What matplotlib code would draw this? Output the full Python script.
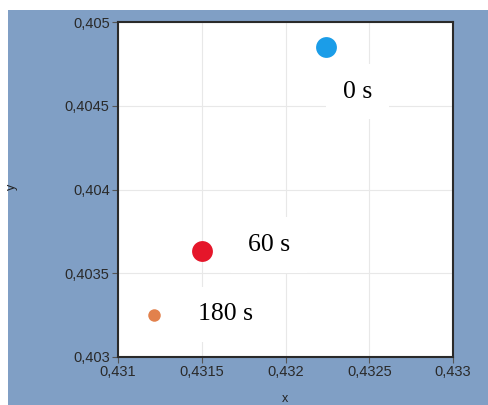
import matplotlib.pyplot as plt
import matplotlib.ticker as mticker
from matplotlib.patches import Rectangle
import numpy as np

# data
xs = [0.43224, 0.43150, 0.431215]
ys = [0.40485, 0.40363, 0.40325]
labels = ["0 s", "60 s", "180 s"]
colors = ["#1b9de8", "#e5162a", "#e2814c"]
sizes = [15, 15, 9]
# label positions (data coords)
lab_x = [0.43243, 0.43190, 0.43164]
lab_y = [0.404585, 0.403668, 0.403255]

W, H = 488, 405
fig = plt.figure(figsize=(W / 100, H / 100), dpi=100)
fig.patch.set_facecolor("white")
bg = Rectangle((8 / W, 0), 1 - 8 / W, 1 - 10 / H,
               transform=fig.transFigure, facecolor="#809fc5",
               edgecolor="none", zorder=-10)
fig.add_artist(bg)

ax = fig.add_axes([118 / W, 1 - 357 / H, 335 / W, 335 / H])
ax.set_zorder(5)
ax.set_facecolor("white")
ax.set_xlim(0.431, 0.433)
ax.set_ylim(0.403, 0.405)
ax.xaxis.set_major_locator(mticker.MultipleLocator(0.0005))
ax.yaxis.set_major_locator(mticker.MultipleLocator(0.0005))
fmt = mticker.FuncFormatter(lambda v, p: ("%g" % round(v, 6)).replace(".", ","))
ax.xaxis.set_major_formatter(fmt)
ax.yaxis.set_major_formatter(fmt)
ax.grid(color="#e8e8e8", linewidth=0.8, zorder=0)
ax.set_axisbelow(True)

for s in ax.spines.values():
    s.set_color("#2a2a2a")
    s.set_linewidth(1.5)
ax.tick_params(direction="out", length=4, width=0.8, color="#555555",
               labelsize=10.5, labelcolor="#2a2a2a", pad=2)
for t in ax.get_xticklabels() + ax.get_yticklabels():
    t.set_fontfamily("Liberation Sans")

for i in range(len(xs)):
    ax.plot(xs[i], ys[i], "o", color=colors[i], markersize=sizes[i],
            markeredgewidth=0, zorder=3)
    ax.text(lab_x[i], lab_y[i], labels[i], ha="center", va="center",
            fontsize=18.5, family="Liberation Serif", color="black", zorder=4,
            bbox=dict(facecolor="white", edgecolor="none", pad=12))

fig.text(285 / W, 1 - 399 / H, "x", ha="center", va="center", fontsize=9,
         family="Liberation Sans", color="#222222")
fig.text(12 / W, 1 - 187 / H, "y", ha="center", va="center", fontsize=9,
         rotation=90, family="Liberation Sans", color="#222222")

fig.savefig("out.png", dpi=100)
